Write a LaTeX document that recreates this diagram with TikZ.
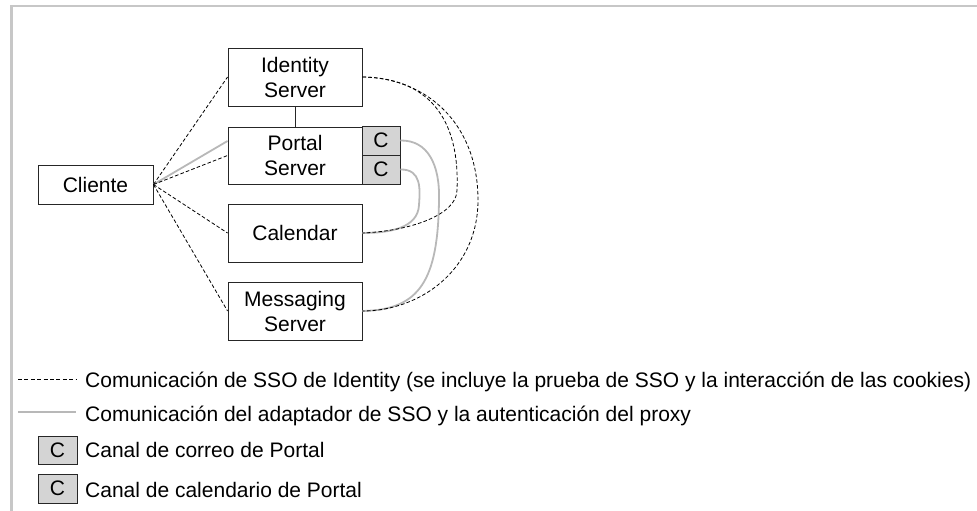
\documentclass[tikz,border=0pt]{standalone}
\usepackage{fontspec}
\setmainfont{Liberation Sans}
\begin{document}
\begin{tikzpicture}[x=1pt,y=-1pt,
  txt/.style={font=\fontsize{21}{25}\selectfont},
  box/.style={draw=black!85, line width=0.9pt, fill=white, inner sep=0pt, align=center, txt},
  cbox/.style={box, fill=black!17},
  sso/.style={draw=black, line width=0.8pt, dash pattern=on 3.6pt off 2.2pt},
  adp/.style={draw=black!28, line width=1.8pt},
  frame/.style={draw=black!22, line width=2.6pt},
  lbl/.style={anchor=base west, inner sep=0pt, txt}]
\useasboundingbox (0,0) rectangle (977,511);
% frame
\coordinate (f1) at (11.2,511);
\coordinate (f2) at (11.2,6.2);
\coordinate (f3) at (977,6.2);
\draw[frame] (f1) -- (f2) -- (f3);
% nodes
\node[box, minimum width=134pt, minimum height=58pt] (id) at (295,77) {Identity\\Server};
\node[box, minimum width=134pt, minimum height=57pt] (portal) at (295,155.5) {Portal\\Server};
\node[cbox, minimum width=38pt, minimum height=29pt] (c1) at (381,140.5) {C};
\node[cbox, minimum width=38pt, minimum height=29pt] (c2) at (381,169.5) {C};
\node[box, minimum width=134pt, minimum height=58pt] (cal) at (295,233) {Calendar};
\node[box, minimum width=134pt, minimum height=58pt] (msg) at (295,311) {Messaging\\Server};
\node[box, minimum width=115pt, minimum height=39pt] (cli) at (95.5,184.5) {Cliente};
% connectors
\draw[black!85, line width=0.9pt] (id.south) -- (portal.north);
\draw[adp] (cli.east) -- ([yshift=14.5pt]portal.west);
\draw[sso] (cli.east) -- (id.west);
\draw[sso] (cli.east) -- (portal.west);
\draw[sso] (cli.east) -- (cal.west);
\draw[sso] (cli.east) -- (msg.west);
\draw[adp] (c1.east) .. controls (428,140) and (440,165) .. (439,200)
  .. controls (438,280) and (420,310) .. (msg.east);
\draw[adp] (c2.east) .. controls (422,169) and (420,190) .. (419,205)
  .. controls (418,228) and (390,233) .. (cal.east);
\draw[sso] (id.east) .. controls (428,78) and (460,118) .. (457,190)
  .. controls (457,215) and (410,231) .. (cal.east);
\draw[sso] (id.east) .. controls (428,78) and (478,125) .. (478,200)
  .. controls (478,270) and (420,311) .. (msg.east);
% legend
\coordinate (la) at (18,379);
\coordinate (lb) at (76,379);
\coordinate (lc) at (18,412);
\coordinate (ld) at (76,412);
\draw[sso, dash pattern=on 4pt off 2.4pt] (la) -- (lb);
\draw[adp] (lc) -- (ld);
\node[lbl] (t1) at (85,387) {Comunicación de SSO de Identity (se incluye la prueba de SSO y la interacción de las cookies)};
\node[lbl] (t2) at (85,421) {Comunicación del adaptador de SSO y la autenticación del proxy};
\node[cbox, minimum width=39pt, minimum height=28pt] (lc1) at (57.5,450) {C};
\node[cbox, minimum width=39pt, minimum height=29pt] (lc2) at (57.5,488.5) {C};
\node[lbl] (t3) at (85,457) {Canal de correo de Portal};
\node[lbl] (t4) at (85,497) {Canal de calendario de Portal};
\end{tikzpicture}
\end{document}
